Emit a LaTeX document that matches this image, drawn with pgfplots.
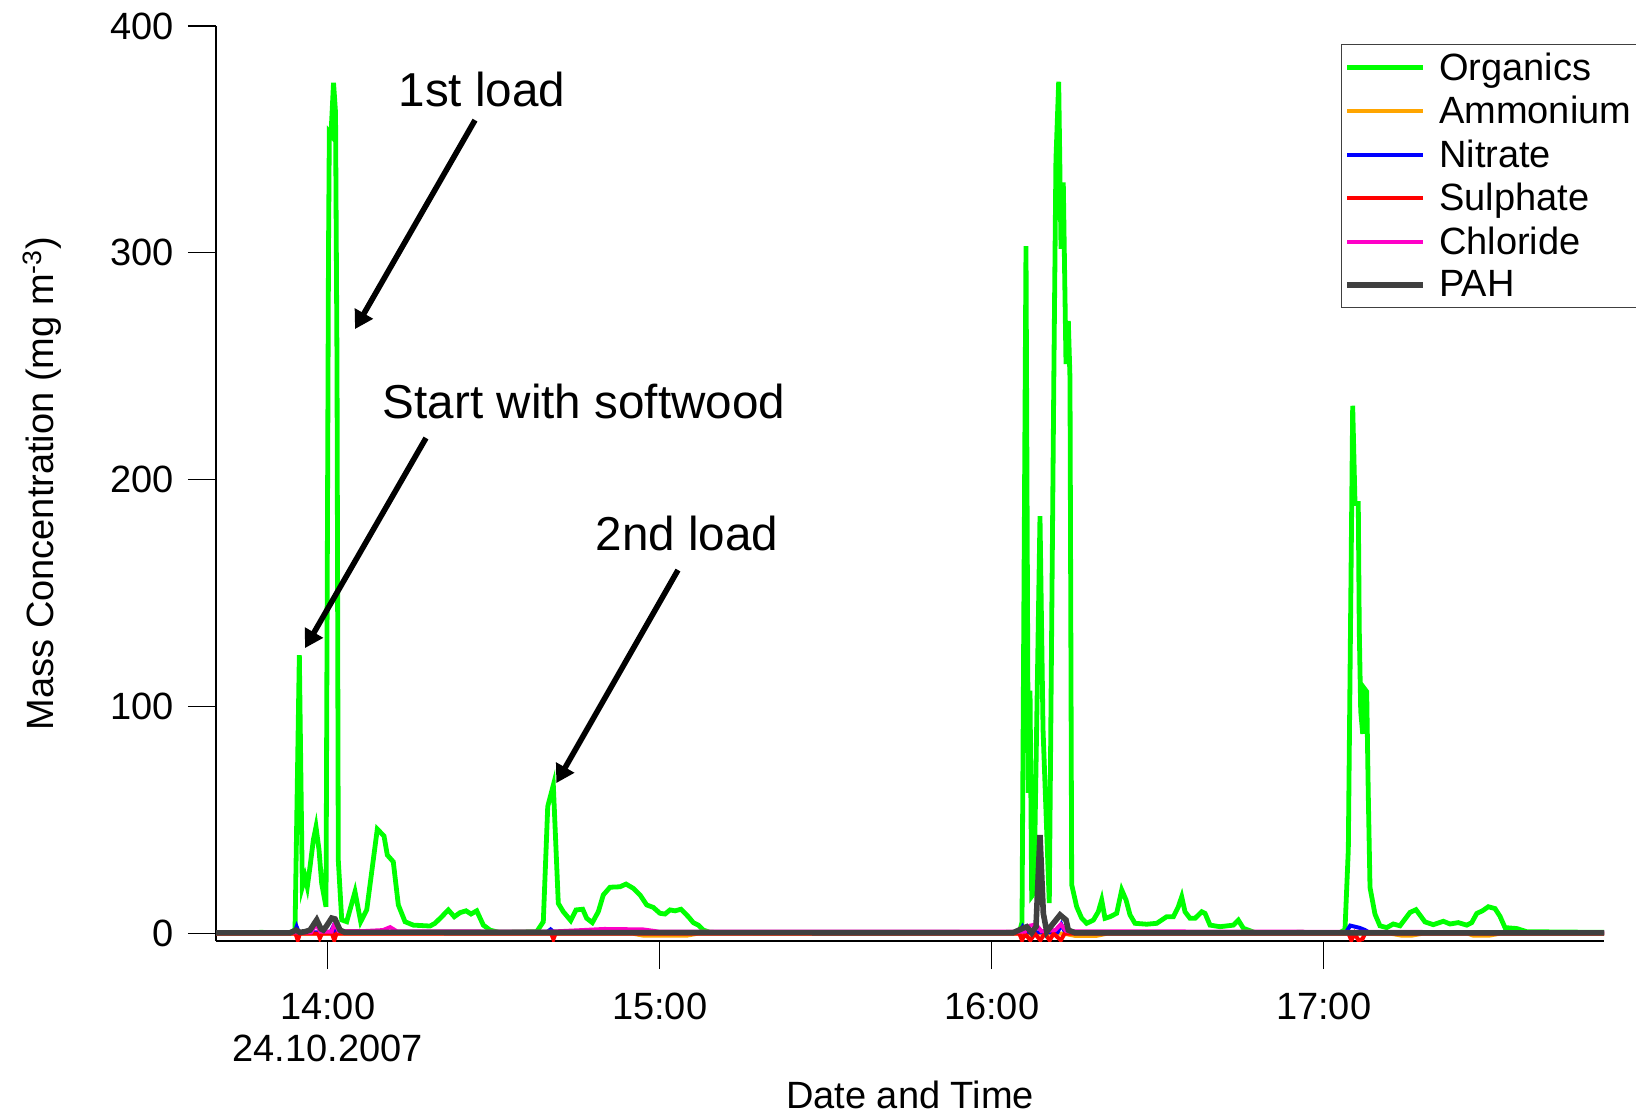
\documentclass[border=0pt]{standalone}
\usepackage{fontspec}
\setmainfont{Liberation Sans}
\usepackage{pgfplots}
\pgfplotsset{compat=1.18}
\usetikzlibrary{arrows.meta}
\definecolor{cOrg}{RGB}{0,255,0}
\definecolor{cAmm}{RGB}{255,165,0}
\definecolor{cNit}{RGB}{0,0,255}
\definecolor{cSul}{RGB}{255,0,0}
\definecolor{cChl}{RGB}{255,0,200}
\definecolor{cPAH}{RGB}{64,64,64}
\begin{document}
\begin{tikzpicture}
\begin{axis}[
  at={(108pt,89pt)}, anchor=south west,
  scale only axis, width=694pt, height=457.5pt,
  xmin=819.83, xmax=1070.67, ymin=-3.3, ymax=400,
  axis x line*=bottom, axis y line*=left,
  axis line style={black, line width=0.6pt},
  tick align=outside, major tick length=14pt,
  tick style={black, line width=0.6pt},
  xtick={840,900,960,1020},
  xticklabels={{14:00\\24.10.2007},15:00,16:00,17:00},
  xticklabel style={align=center, font=\fontsize{19}{21}\selectfont, yshift=-8.5pt},
  ytick={0,100,200,300,400},
  yticklabel style={font=\fontsize{19}{21}\selectfont, xshift=-3.5pt},
  /pgf/number format/assume math mode=true,
  xlabel={Date and Time},
  ylabel={Mass Concentration (mg m\textsuperscript{-3})},
  label style={font=\fontsize{19}{21}\selectfont},
  xlabel style={at={(axis description cs:0.5,0)}, anchor=center, yshift=-77pt, inner sep=0pt},
  ylabel style={at={(axis description cs:-0.12536,0.5)}, anchor=center},
  legend style={at={(axis description cs:0.8105,0.9803)}, anchor=north west,
    draw=cPAH, line width=0.6pt, font=\fontsize{19}{21}\selectfont,
    inner xsep=1.5pt, inner ysep=2pt, row sep=2.5pt, column sep=4.5pt},
  legend cell align=left,
  legend image code/.code={\draw[#1] (0pt,0pt) -- (38pt,0pt);},
]
\addplot[cOrg, line width=2.4pt] coordinates {
(819.83,0.3) (828,0.5) (833.2,0.4) (834.11,1.5) (834.89,122.7) (835.43,20.6) (835.92,25) (836.33,20.6) (836.82,29.4) (837.42,41.2) (837.90,47) (838.45,36.8) (838.93,22) (839.71,11.8) (840.16,300) (840.31,353) (840.61,352) (841.07,375) (841.43,362) (841.70,250) (841.93,32.4) (842.55,6) (843.45,5.2) (844.95,18.4) (845.98,5.2) (847.07,10.4) (848.98,46) (850.19,43) (850.79,34.6) (851.87,31.6) (852.78,12.6) (853.99,5.2) (855.49,3.7) (858.51,3.3) (859.41,4.5) (860.62,7.4) (861.81,10.4) (862.90,7.4) (863.93,9.2) (865.01,10) (865.92,8.6) (866.95,10) (868.14,3.7) (869.35,1.5) (871,0.5) (877.79,0.8) (878.98,5.2) (879.78,56) (880.79,65.4) (881.69,13.3) (882.60,9.6) (883.93,5.7) (884.89,10.4) (886.10,10.7) (886.82,6.7) (887.84,4.8) (888.92,9.6) (889.82,17) (891.04,20.4) (892.84,20.6) (893.93,21.8) (895.25,19.9) (896.46,17) (897.67,12.6) (898.86,11.5) (900.07,8.9) (900.98,8.6) (901.88,10.4) (902.79,10) (903.87,10.7) (905.19,7.4) (906.09,4.8) (906.99,3.7) (907.90,1.5) (909.11,0.5) (925.37,0.3) (943.44,0.4) (964.2,0.5) (965.13,1.5) (965.49,5) (966.21,303) (966.63,62) (966.94,107) (967.24,16.4) (967.66,17.8) (968.74,184) (969.29,90) (970.42,13.4) (971.26,250) (971.62,341) (972.12,375.4) (972.54,301.8) (972.95,331) (973.44,251) (973.86,270) (974.16,244.8) (974.47,21.5) (975.37,11.8) (976.28,6.7) (977.18,4.5) (978.38,5.9) (979.28,9.6) (979.89,14.8) (980.49,6.7) (981.39,7.4) (982.60,8.9) (983.51,19.2) (984.29,14.8) (985.01,8.2) (985.91,4.5) (988.03,4.1) (989.84,4.5) (991.64,7.4) (992.84,7.4) (993.74,11.8) (994.35,16.2) (994.95,9.6) (995.85,6.7) (996.76,6.7) (997.97,9.6) (998.56,8.9) (999.47,3.7) (1001.27,3) (1003.68,3.7) (1004.58,5.9) (1005.49,2.3) (1006.39,1.5) (1007.60,0.4) (1015.73,0.5) (1022.96,0.4) (1023.86,1.7) (1024.46,37) (1025.25,232.6) (1025.67,189.5) (1026.26,189.5) (1026.44,133.8) (1026.70,98) (1027.06,88) (1027.35,108) (1027.78,106.6) (1028.07,61) (1028.38,20.3) (1029.28,8.5) (1030.18,3.4) (1031.40,2.6) (1032.59,4.2) (1033.80,3.4) (1035.61,9.3) (1036.69,10.5) (1038.32,5.1) (1039.82,3.9) (1041.63,5.4) (1042.84,4.2) (1044.34,4.8) (1045.86,3.7) (1046.76,4.8) (1047.66,8.8) (1048.75,10.1) (1049.76,11.8) (1050.97,11) (1051.87,7.6) (1052.78,2.6) (1054.89,2.2) (1056.70,0.8) (1070.67,0.5)
};
\addlegendentry{Organics}
\addplot[cAmm, line width=2pt] coordinates {
(819.83,0) (895,0) (897,-0.9) (905,-0.9) (907,0) (973,0) (975,-1) (979,-1) (981,0) (1032,0) (1034,-0.9) (1036,-0.9) (1038,0) (1046,0) (1047,-0.9) (1050,-0.9) (1052,0) (1070.67,0)
};
\addlegendentry{Ammonium}
\addplot[cNit, line width=2pt] coordinates {
(819.83,0.3) (834,0.3) (834.4,3) (834.8,0.5) (840.5,0.5) (841,3) (841.5,0.5) (879.5,0.3) (880.3,1.8) (881,0.3) (965,0.3) (965.6,3) (966.2,0.5) (971.9,0.5) (972.6,4) (973.3,0.5) (1024,0.3) (1024.8,3.5) (1026.5,2.5) (1027.5,1.5) (1028.3,0.3) (1070.67,0.3)
};
\addlegendentry{Nitrate}
\addplot[cSul, line width=2pt] coordinates {
(819.83,0) (834.2,0) (834.6,-3) (835,0) (838.3,0) (838.6,-2) (839,0) (840.8,0) (841.2,-3) (841.6,0) (880.4,0) (880.8,-2.5) (881.2,0) (965,0) (965.5,-3) (966,0) (967,-3) (967.8,0) (968.8,-3) (969.6,0) (970.5,-3) (971.2,0) (972.5,-3) (973.2,0) (1024.5,0) (1025,-3) (1025.6,0) (1026.3,-3) (1027,-2.5) (1027.5,0) (1070.67,0)
};
\addlegendentry{Sulphate}
\addplot[cChl, line width=2pt] coordinates {
(819.83,0.5) (837,0.5) (837.9,4) (838.7,0.8) (840.7,0.8) (841.3,4.5) (842,1) (846,1) (850,1.5) (851.3,2.8) (852.5,1) (880,0.8) (886,1.5) (890,2) (897,1.8) (900,0.8) (966,0.8) (967,3.5) (968,4) (969,1) (971.5,1.5) (972.5,4) (973.5,1) (1070.67,0.5)
};
\addlegendentry{Chloride}
\addplot[cPAH, line width=2.8pt] coordinates {
(819.83,0.3) (833.20,0.3) (834.29,1.5) (835.01,0.5) (835.91,0.8) (836.82,1.5) (838.03,6) (838.81,2) (839.22,1.5) (839.71,3) (840.74,6.8) (841.34,6.4) (842.24,1.5) (843.14,0.5) (963.86,0.3) (965.73,2.4) (966.34,3) (967.24,0.3) (968.02,3) (968.74,43.4) (969.34,8.9) (969.96,0.8) (971.15,4.5) (972.36,8.2) (973.44,6) (973.86,1.5) (975.07,0.3) (1070.67,0.3)
};
\addlegendentry{PAH}
\node[font=\fontsize{23.8}{26}\selectfont] at (axis cs:867.90,372.2) {1st load};
\draw[line width=2.8pt, -{Triangle[length=9pt,width=10pt]}] (axis cs:866.64,358.5) -- (axis cs:844.95,266.4);
\node[font=\fontsize{23.8}{26}\selectfont] at (axis cs:886.34,234.7) {Start with softwood};
\draw[line width=2.8pt, -{Triangle[length=9pt,width=10pt]}] (axis cs:857.78,218.4) -- (axis cs:835.92,125.8);
\node[font=\fontsize{23.8}{26}\selectfont] at (axis cs:904.95,176.1) {2nd load};
\draw[line width=2.8pt, -{Triangle[length=9pt,width=10pt]}] (axis cs:903.32,160.2) -- (axis cs:881.33,66.3);
\end{axis}
\pgfresetboundingbox
\useasboundingbox (0pt,0pt) rectangle (818pt,559.5pt);
\end{tikzpicture}
\end{document}
